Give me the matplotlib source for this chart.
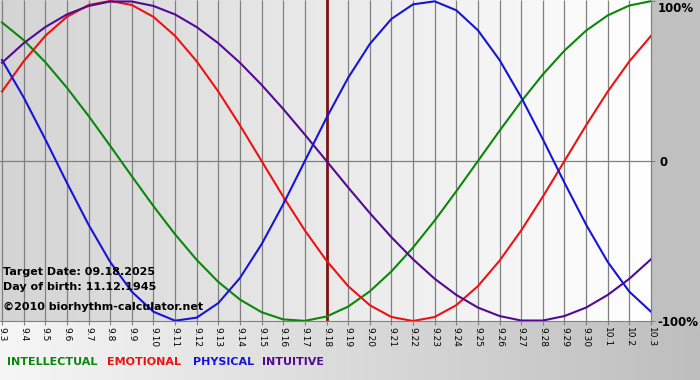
import numpy as np
import matplotlib.pyplot as plt
from matplotlib.colors import LinearSegmentedColormap
from matplotlib.patches import Rectangle

# Days shown on the x axis (month.day)
days = ['9.3', '9.4', '9.5', '9.6', '9.7', '9.8', '9.9', '9.10', '9.11', '9.12',
        '9.13', '9.14', '9.15', '9.16', '9.17', '9.18', '9.19', '9.20', '9.21',
        '9.22', '9.23', '9.24', '9.25', '9.26', '9.27', '9.28', '9.29', '9.30',
        '10.1', '10.2', '10.3']
target_day = '9.18'

# Cycle values per day (-1 .. 1)
intellectual = [0.866, 0.756, 0.618, 0.458, 0.282, 0.095, -0.095, -0.282, -0.458,
                -0.618, -0.756, -0.866, -0.945, -0.990, -0.999, -0.972, -0.910,
                -0.815, -0.690, -0.541, -0.372, -0.189, 0.0, 0.189, 0.372, 0.541,
                0.690, 0.815, 0.910, 0.972, 0.999]
emotional = [0.434, 0.623, 0.782, 0.901, 0.975, 1.0, 0.975, 0.901, 0.782, 0.623,
             0.434, 0.223, 0.0, -0.223, -0.434, -0.623, -0.782, -0.901, -0.975,
             -1.0, -0.975, -0.901, -0.782, -0.623, -0.434, -0.223, 0.0, 0.223,
             0.434, 0.623, 0.782]
physical = [0.631, 0.398, 0.136, -0.136, -0.398, -0.631, -0.817, -0.942, -0.998,
            -0.979, -0.888, -0.731, -0.520, -0.270, 0.0, 0.270, 0.520, 0.731,
            0.888, 0.979, 0.998, 0.942, 0.817, 0.631, 0.398, 0.136, -0.136,
            -0.398, -0.631, -0.817, -0.942]
intuitive = [0.614, 0.736, 0.837, 0.916, 0.969, 0.997, 0.997, 0.969, 0.916, 0.837,
             0.736, 0.614, 0.476, 0.325, 0.165, 0.0, -0.165, -0.325, -0.476,
             -0.614, -0.736, -0.837, -0.916, -0.969, -0.997, -0.997, -0.969,
             -0.916, -0.837, -0.736, -0.614]

series = [('INTELLECTUAL', intellectual, '#0a870a'),
          ('EMOTIONAL', emotional, '#ee1111'),
          ('PHYSICAL', physical, '#1515d8'),
          ('INTUITIVE', intuitive, '#520a94')]

W, H = 700, 380
fig = plt.figure(figsize=(W / 100, H / 100), dpi=100)

# figure background, pixel coordinates
bg = fig.add_axes([0, 0, 1, 1], zorder=-10)
grad = np.linspace(0, 1, 256)[None, :]
bg.imshow(grad, aspect='auto', extent=[0, W, H, 0],
          cmap=LinearSegmentedColormap.from_list('bg', ['#f6f6f6', '#bebebe']))
bg.add_patch(Rectangle((651, 0), 49, 321, color='#c0c0c0'))
bg.set_xlim(0, W)
bg.set_ylim(H, 0)
bg.axis('off')

# main chart
x = np.arange(len(days))
x0 = -2 / 21.63
ytop = 1 + 1 / 160
ax = fig.add_axes([0, 1 - 321 / H, 651 / W, 321 / H])
ax.imshow(grad, aspect='auto', extent=[x0, x[-1], -1, ytop], zorder=0,
          cmap=LinearSegmentedColormap.from_list('pl', ['#d4d4d4', '#ffffff']))
ax.vlines(x, -1, ytop, color='#808080', lw=0.9, zorder=1, clip_on=False)
ax.axhline(0, color='#808080', lw=0.9, zorder=1)
ax.axvline(days.index(target_day), color='#7a1414', lw=2, zorder=2)

for name, vals, col in series:
    ax.plot(x, vals, color=col, lw=1.5, zorder=3)

ax.set_xlim(x0, x[-1])
ax.set_ylim(-1, ytop)
ax.set_xticks(x)
ax.set_xticklabels(days, rotation=270, fontsize=6.5)
ax.tick_params(axis='x', length=3, color='#808080', pad=1)
ax.yaxis.tick_right()
ax.set_yticks([-1, 0, 1])
ax.set_yticklabels([])
ax.tick_params(axis='y', length=3, color='#808080')
for s in ['top', 'left', 'right']:
    ax.spines[s].set_visible(False)
ax.spines['bottom'].set_color('#808080')

# overlay for texts, pixel coordinates
ov = fig.add_axes([0, 0, 1, 1], zorder=10)
ov.set_xlim(0, W)
ov.set_ylim(H, 0)
ov.axis('off')
ov.patch.set_alpha(0)

info = dict(fontsize=8, fontweight='bold', color='black', ha='left', va='center')
ov.text(3, 272, 'Target Date: 09.18.2025', **info)
ov.text(3, 287, 'Day of birth: 11.12.1945', **info)
ov.text(3, 307, '©2010 biorhythm-calculator.net', **info)

ov.text(658, 8, '100%', fontsize=8.5, fontweight='bold', va='center')
ov.text(659, 162, '0', fontsize=8.5, fontweight='bold', va='center')
ov.text(657, 322, '-100%', fontsize=8.5, fontweight='bold', va='center')

legend_x = [7, 107, 193, 262]
for (name, vals, col), lx in zip(series, legend_x):
    ov.text(lx, 362, name, fontsize=8, fontweight='bold', color=col,
            ha='left', va='center')

fig.savefig('out.png', dpi=100)
